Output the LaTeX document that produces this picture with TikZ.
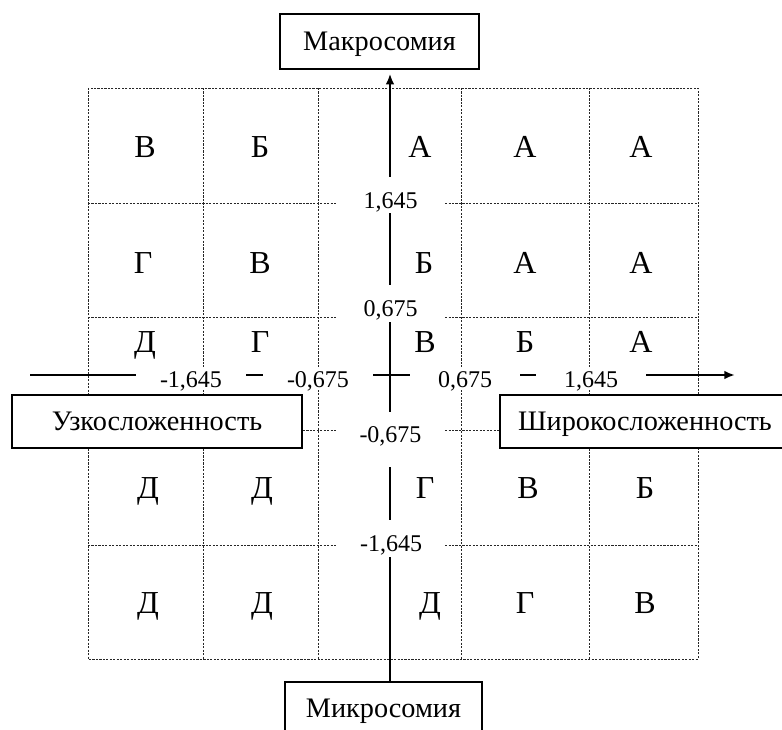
\documentclass[tikz,border=0pt]{standalone}
\usepackage{fontspec}
\setmainfont{Liberation Serif}
\usetikzlibrary{arrows.meta}
\begin{document}
\begin{tikzpicture}[x=0.75pt,y=-0.75pt,
  gridline/.style={draw=black!85, line width=0.6pt, dash pattern=on 1.6pt off 1pt},
  axis/.style={line width=1.8pt, draw=black},
  tip/.style={-{Latex[length=8pt,width=6.5pt]}},
  cell/.style={font=\fontsize{24}{26}\selectfont, text height=15.9pt, text depth=0pt, inner sep=0pt},
  vlabel/.style={fill=white, font=\fontsize{18}{20}\selectfont, minimum width=81pt, inner sep=0pt, text height=19.7pt, text depth=0pt},
  hlabel/.style={fill=white, font=\fontsize{18}{20}\selectfont, minimum width=83pt, inner xsep=0pt, inner ysep=2pt, text height=12.2pt, text depth=0pt},
  titlebox/.style={draw, fill=white, line width=1pt, font=\fontsize{21.2}{23}\selectfont, inner sep=0pt, text height=14pt, text depth=0pt}
]
\useasboundingbox (0,0) rectangle (782,730);
% grid
\draw[gridline] (88,88) rectangle (698,659);
\foreach \x in {203,318,461,589} \draw[gridline] (\x,88) -- (\x,659);
\foreach \y in {203,317,430,545} \draw[gridline] (88,\y) -- (698,\y);
% cell letters
\node[cell] (c11) at (145,147) {В};
\node[cell] (c12) at (260,147) {Б};
\node[cell] (c13) at (420,147) {А};
\node[cell] (c14) at (525,147) {А};
\node[cell] (c15) at (641,147) {А};
\node[cell] (c21) at (143,263) {Г};
\node[cell] (c22) at (260,263) {В};
\node[cell] (c23) at (424,263) {Б};
\node[cell] (c24) at (525,263) {А};
\node[cell] (c25) at (641,263) {А};
\node[cell] (c31) at (145,342) {Д};
\node[cell] (c32) at (260,342) {Г};
\node[cell] (c33) at (425,342) {В};
\node[cell] (c34) at (525,342) {Б};
\node[cell] (c35) at (641,342) {А};
\node[cell] (c41) at (148,488) {Д};
\node[cell] (c42) at (262,488) {Д};
\node[cell] (c43) at (425,488) {Г};
\node[cell] (c44) at (528,488) {В};
\node[cell] (c45) at (645,488) {Б};
\node[cell] (c51) at (148,603) {Д};
\node[cell] (c52) at (262,603) {Д};
\node[cell] (c53) at (430,603) {Д};
\node[cell] (c54) at (525,603) {Г};
\node[cell] (c55) at (645,603) {В};
% boxes
\node[titlebox, minimum width=149.25pt, minimum height=41.25pt] (makro) at (379.5,41.5) {Макросомия};
\node[titlebox, minimum width=147.75pt, minimum height=39.75pt] (mikro) at (383.5,708.5) {Микросомия};
% axes
\coordinate (O) at (390,375);
\coordinate (L) at (30,375);
\coordinate (R) at (735,375);
\draw[axis,tip] (L) -- (R);
\draw[axis,tip] (mikro.north -| O) -- ([yshift=-3pt]makro.south -| O);
% axis value labels
\node[vlabel, minimum height=27pt] (v1) at (390.5,195) {1,645};
\node[vlabel, minimum height=27.75pt] (v2) at (390.5,303.5) {0,675};
\node[vlabel, minimum height=41.25pt, text height=12.2pt, text depth=8.2pt] (v3) at (390.5,440) {-0,675};
\node[vlabel, minimum height=27.75pt] (v4) at (391,538.5) {-1,645};
\node[hlabel] (h1) at (191,379.5) {-1,645};
\node[hlabel] (h2) at (318,379.5) {-0,675};
\node[hlabel] (h3) at (465,379.5) {0,675};
\node[hlabel] (h4) at (591,379.5) {1,645};
% side boxes
\node[titlebox, minimum width=217.5pt, minimum height=39.75pt] (uzko) at (157,421.5) {Узкосложенность};
\node[titlebox, minimum width=217.5pt, minimum height=39.75pt] (shiro) at (645,421.5) {Широкосложенность};
\end{tikzpicture}
\end{document}
